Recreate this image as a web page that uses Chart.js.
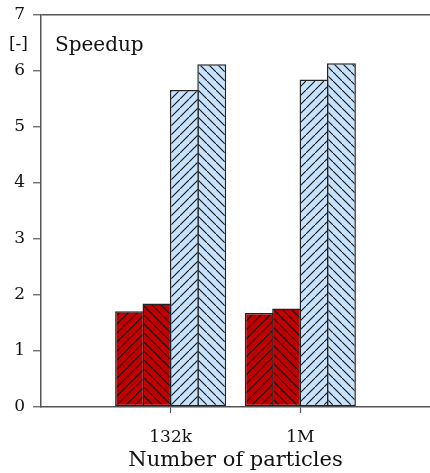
<!DOCTYPE html>
<html>
<head>
<meta charset="utf-8">
<script src="https://cdn.jsdelivr.net/npm/chart.js@4/dist/chart.umd.min.js"></script>
<style>
  html, body { margin: 0; padding: 0; background: #fff; }
  #wrap { width: 430px; height: 473px; }
</style>
</head>
<body>
<div id="wrap"><canvas id="speedChart"></canvas></div>
<script>
// 데이터 (빈 라벨은 양쪽 여백용)
const categories = ['', '132k', '1M', ''];
const redSlash = [null, 1.71, 1.68, null];
const redBack = [null, 1.85, 1.76, null];
const blueSlash = [null, 5.66, 5.85, null];
const blueBack = [null, 6.12, 6.14, null];
const yTicks = [0, 1, 2, 3, 4, 5, 6, 7];

const RED = '#c00000';
const BLUE = '#c6e2fc';
const AXIS = '#555';
const FONT = 'DejaVu Serif';

// 빗금 패턴 만들기
function makeHatch(bg, dir) {
    const s = 9;
    const c = document.createElement('canvas');
    c.width = s; c.height = s;
    const g = c.getContext('2d');
    g.fillStyle = bg;
    g.fillRect(0, 0, s, s);
    g.strokeStyle = '#111';
    g.lineWidth = 1.1;
    g.beginPath();
    if (dir === '/') {
        g.moveTo(-1, s + 1); g.lineTo(s + 1, -1);
    } else {
        g.moveTo(-1, -1); g.lineTo(s + 1, s + 1);
    }
    g.stroke();
    return g.createPattern(c, 'repeat');
}

// 텍스트 라벨 ([-], Speedup)
const labelPlugin = {
    id: 'labels',
    afterDraw(chart) {
        const ctx = chart.ctx;
        const y = chart.scales.y;
        ctx.save();
        ctx.fillStyle = '#111';
        ctx.textBaseline = 'middle';
        ctx.font = '17px "' + FONT + '"';
        ctx.textAlign = 'right';
        ctx.fillText('[-]', y.right - 13, 45);
        ctx.font = '20px "' + FONT + '"';
        ctx.textAlign = 'left';
        ctx.fillText('Speedup', chart.chartArea.left + 14, 46);
        ctx.restore();
    }
};

// 막대끼리 테두리가 겹치도록 barPercentage 를 1 보다 살짝 크게
function ds(data, pattern) {
    return {
        data: data,
        backgroundColor: pattern,
        borderColor: '#222',
        borderWidth: 1.5,
        borderSkipped: false,
        barPercentage: 1.055,
        categoryPercentage: 0.845
    };
}

new Chart(document.getElementById('speedChart'), {
    type: 'bar',
    data: {
        labels: categories,
        datasets: [
            ds(redSlash, makeHatch(RED, '/')),
            ds(redBack, makeHatch(RED, '\\')),
            ds(blueSlash, makeHatch(BLUE, '/')),
            ds(blueBack, makeHatch(BLUE, '\\'))
        ]
    },
    options: {
        responsive: true,
        maintainAspectRatio: false,
        animation: false,
        layout: { padding: { top: 15, right: 0, left: 0, bottom: 0 } },
        plugins: { legend: { display: false }, tooltip: { enabled: false } },
        scales: {
            x: {
                offset: false,
                grid: {
                    offset: false,
                    drawOnChartArea: false,
                    tickLength: 6,
                    tickColor: c => categories[c.index] ? AXIS : 'rgba(0,0,0,0)',
                    tickWidth: 1.2
                },
                border: { color: AXIS, width: 1.5 },
                ticks: {
                    color: '#111',
                    font: { family: FONT, size: 17 },
                    padding: 14,
                    maxRotation: 0,
                    autoSkip: false
                },
                title: {
                    display: true,
                    text: 'Number of particles',
                    color: '#111',
                    font: { family: FONT, size: 21 },
                    padding: { top: 0, bottom: 0 }
                },
                afterFit: s => {
                    s.height = 66;
                    s.paddingLeft = 0;
                    s.paddingRight = 0;
                }
            },
            y: {
                min: 0,
                max: 7,
                afterBuildTicks: s => { s.ticks = yTicks.map(v => ({ value: v })); },
                grid: {
                    drawOnChartArea: true,
                    color: c => (c.tick && c.tick.value === 7) ? AXIS : 'rgba(0,0,0,0)',
                    lineWidth: 1.5,
                    tickLength: 8,
                    tickColor: AXIS,
                    tickWidth: 1.2
                },
                border: { color: AXIS, width: 1.5 },
                ticks: {
                    color: '#111',
                    font: { family: FONT, size: 17 },
                    padding: 8
                },
                afterFit: s => {
                    s.width = 41;
                    s.paddingTop = 0;
                    s.paddingBottom = 0;
                }
            }
        }
    },
    plugins: [labelPlugin]
});
</script>
</body>
</html>
